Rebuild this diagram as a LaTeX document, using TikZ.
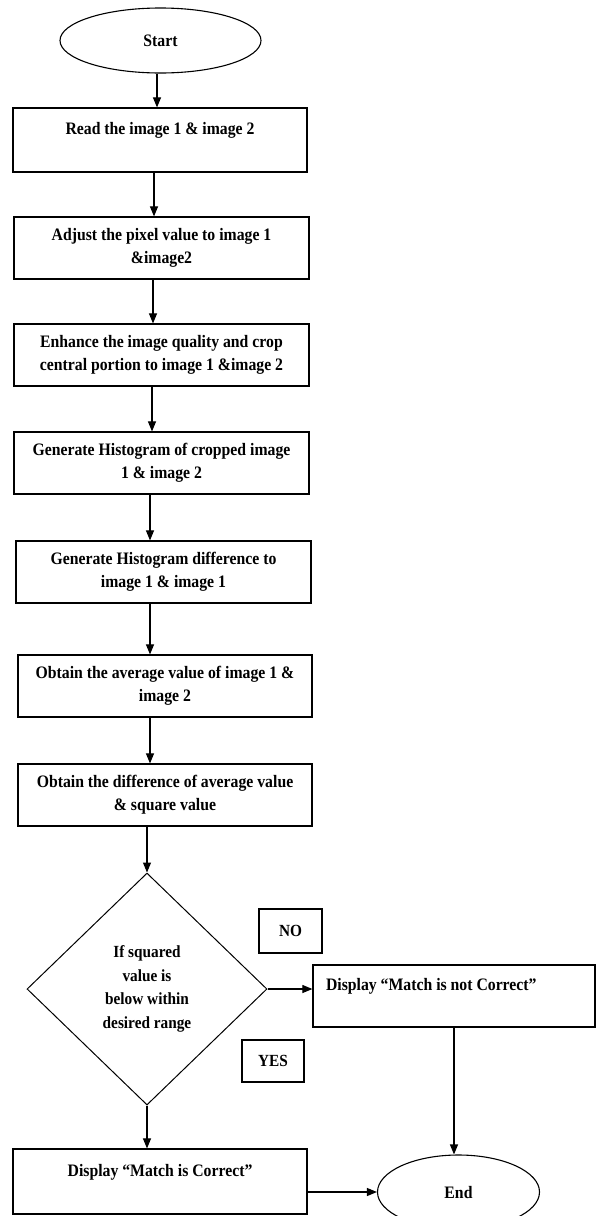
\documentclass[tikz,border=0pt]{standalone}
\usepackage{fontspec}
\setmainfont[FakeStretch=0.9]{Liberation Serif}
\usetikzlibrary{shapes.geometric,arrows.meta}

\begin{document}
\begin{tikzpicture}[x=1pt,y=-1pt,
        stepbox/.style={draw=black, line width=1.2pt, rectangle, inner sep=0pt,
            minimum width=295pt, minimum height=62pt, align=center,
            font=\fontsize{17.5}{23}\selectfont\bfseries},
        termbox/.style={draw=black, line width=1.1pt, ellipse, inner sep=0pt,
            font=\fontsize{17.5}{23}\selectfont\bfseries},
        tagbox/.style={draw=black, line width=1.1pt, rectangle, inner sep=0pt,
            minimum width=62pt, minimum height=43pt,
            font=\fontsize{17}{23}\selectfont\bfseries},
        arr/.style={draw=black, line width=1.1pt, -{Triangle[length=10pt,width=8pt]}}]
    \useasboundingbox (0,0) rectangle (595,1216);

    % terminals
    \node[termbox, minimum width=201pt, minimum height=65pt] (start) at (160.5,40.5) {Start};
    \node[termbox, minimum width=162pt, minimum height=74pt] (end) at (458.5,1192) {End};

    % process steps
    \node[stepbox, minimum width=294pt, minimum height=64pt] (read) at (160,140) {Read the image 1 \& image 2\\ \mbox{}};
    \node[stepbox] (adjust) at (161.5,248) {Adjust the pixel value to image 1\\ \&image2};
    \node[stepbox] (enhance) at (161.5,355) {Enhance the image quality and crop\\ central portion to image 1 \&image 2};
    \node[stepbox] (hist) at (161.5,463) {Generate Histogram of cropped image\\ 1 \& image 2};
    \node[stepbox] (histdiff) at (163.5,572) {Generate Histogram difference to\\ image 1 \& image 1};
    \node[stepbox, minimum width=294pt] (avg) at (165,686) {Obtain the average value of image 1 \&\\ image 2};
    \node[stepbox, minimum width=294pt] (sqdiff) at (165,795) {Obtain the difference of average value\\ \& square value};

    % decision
    \node[draw=black, line width=1pt, diamond, inner sep=0pt, minimum width=240pt, minimum height=232pt,
        align=center, font=\fontsize{17}{23.5}\selectfont\bfseries] (check) at (147,989)
        {If squared\\ value is\\ below within\\ desired range};
    \node[tagbox, minimum width=63pt, minimum height=44pt] (no) at (290.5,931) {NO};
    \node[tagbox, minimum height=42pt] (yes) at (273,1061) {YES};

    % outcomes
    \node[stepbox, minimum width=282pt, text width=256pt, align=flush left] (wrong) at (454,996)
        {Display ``Match is not Correct''\\ \mbox{}};
    \node[stepbox, minimum width=294pt, minimum height=65pt] (right) at (160,1181.5)
        {Display ``Match is Correct''\\ \mbox{}};

    % connectors
    \draw[arr] ([xshift=-3.5pt]start.south) -- ([xshift=-3.5pt]start.south |- read.north);
    \draw[arr] ([xshift=-6pt]read.south) -- ([xshift=-6pt]read.south |- adjust.north);
    \draw[arr] ([xshift=-8.5pt]adjust.south) -- ([xshift=-8.5pt]adjust.south |- enhance.north);
    \draw[arr] ([xshift=-9.5pt]enhance.south) -- ([xshift=-9.5pt]enhance.south |- hist.north);
    \draw[arr] ([xshift=-11.5pt]hist.south) -- ([xshift=-11.5pt]hist.south |- histdiff.north);
    \draw[arr] ([xshift=-13.5pt]histdiff.south) -- ([xshift=-13.5pt]histdiff.south |- avg.north);
    \draw[arr] ([xshift=-15pt]avg.south) -- ([xshift=-15pt]avg.south |- sqdiff.north);
    \draw[arr] (sqdiff.south -| check.north) -- (check.north);
    \draw[arr] (check.east) -- (check.east -| wrong.west);
    \draw[arr] (check.south) -- (check.south |- right.north);
    \draw[arr] (wrong.south) -- (wrong.south |- end.north);
    \draw[arr] (right.east |- end.west) -- (end.west);
\end{tikzpicture}
\end{document}
